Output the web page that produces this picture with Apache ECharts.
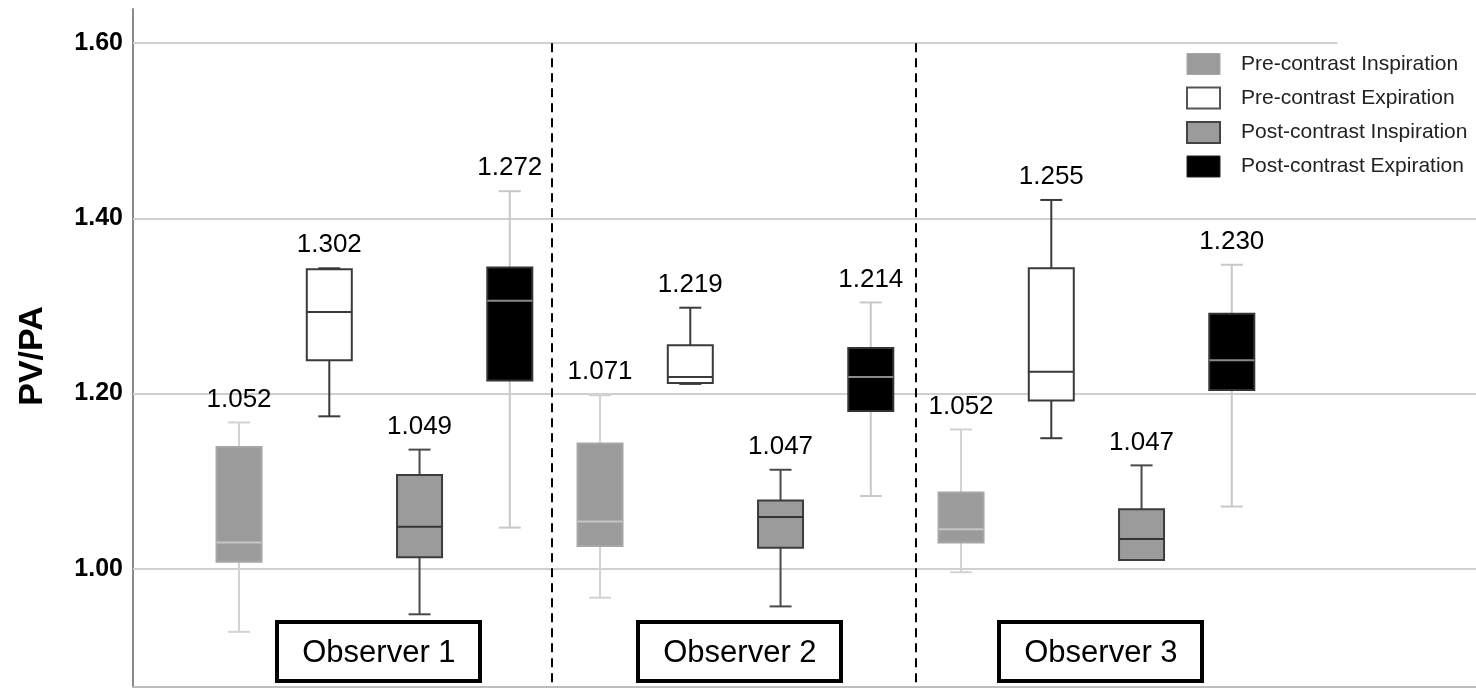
<!DOCTYPE html>
<html>
<head>
<meta charset="utf-8">
<script src="https://cdn.jsdelivr.net/npm/echarts@6/dist/echarts.min.js"></script>
<style>
html,body{margin:0;padding:0;background:#fff;}
#chart{width:1476px;height:689px;}
</style>
</head>
<body>
<div id="chart"></div>
<script>
// ---------------- data ----------------
const observers = ['Observer 1', 'Observer 2', 'Observer 3'];
const conditions = ['Pre-contrast Inspiration', 'Pre-contrast Expiration', 'Post-contrast Inspiration', 'Post-contrast Expiration'];
const yTicks = [1.00, 1.20, 1.40, 1.60];

// box statistics per observer
const preInspMin = [0.928, 0.967, 0.996];
const preInspQ1  = [1.008, 1.026, 1.030];
const preInspMed = [1.030, 1.054, 1.045];
const preInspQ3  = [1.139, 1.143, 1.087];
const preInspMax = [1.167, 1.198, 1.159];
const preInspLabel = [1.052, 1.071, 1.052];

const preExpMin = [1.174, 1.211, 1.149];
const preExpQ1  = [1.238, 1.212, 1.192];
const preExpMed = [1.293, 1.219, 1.225];
const preExpQ3  = [1.342, 1.255, 1.343];
const preExpMax = [1.343, 1.298, 1.421];
const preExpLabel = [1.302, 1.219, 1.255];

const postInspMin = [0.948, 0.957, 1.010];
const postInspQ1  = [1.013, 1.024, 1.010];
const postInspMed = [1.048, 1.059, 1.034];
const postInspQ3  = [1.107, 1.078, 1.068];
const postInspMax = [1.136, 1.113, 1.118];
const postInspLabel = [1.049, 1.047, 1.047];

const postExpMin = [1.047, 1.083, 1.071];
const postExpQ1  = [1.215, 1.180, 1.204];
const postExpMed = [1.306, 1.219, 1.238];
const postExpQ3  = [1.344, 1.252, 1.291];
const postExpMax = [1.431, 1.304, 1.347];
const postExpLabel = [1.272, 1.214, 1.230];

// ---------------- layout / style ----------------
const X_MIN = -1.175, X_MAX = 13.706;
const Y_MIN = 0.865, Y_MAX = 1.639;
const BOX_W = 45, CAP_W = 22;
const SEPARATORS = [3.46, 7.5];
const GRID_1_60_END = 12.17;
const OBS_LABEL_Y = 0.905;
const OBS_LABEL_SHIFT = 1.55;
const OBS_BOX_W = 203, OBS_BOX_H = 59;
const FONT = '"Liberation Sans", Arial, sans-serif';

const stats = [
  [preInspMin, preInspQ1, preInspMed, preInspQ3, preInspMax, preInspLabel],
  [preExpMin, preExpQ1, preExpMed, preExpQ3, preExpMax, preExpLabel],
  [postInspMin, postInspQ1, postInspMed, postInspQ3, postInspMax, postInspLabel],
  [postExpMin, postExpQ1, postExpMed, postExpQ3, postExpMax, postExpLabel]
];
const styles = [
  {fill: '#9b9b9b', border: '#a6a6a6', median: '#c6c6c6', whisker: '#d2d2d2'},
  {fill: '#ffffff', border: '#3a3a3a', median: '#3a3a3a', whisker: '#3a3a3a'},
  {fill: '#9b9b9b', border: '#3c3c3c', median: '#333333', whisker: '#4a4a4a'},
  {fill: '#000000', border: '#333333', median: '#8a8a8a', whisker: '#c8c8c8'}
];
const legendStyles = [
  {color: '#9b9b9b', borderColor: '#a6a6a6', borderWidth: 1},
  {color: '#ffffff', borderColor: '#555555', borderWidth: 2},
  {color: '#9b9b9b', borderColor: '#444444', borderWidth: 2},
  {color: '#000000', borderColor: '#222222', borderWidth: 1}
];

function makeRender(st) {
  return function (params, api) {
    const x = api.value(0);
    const cx = api.coord([x, api.value(1)])[0];
    const yMin = api.coord([x, api.value(1)])[1];
    const yQ1 = api.coord([x, api.value(2)])[1];
    const yMed = api.coord([x, api.value(3)])[1];
    const yQ3 = api.coord([x, api.value(4)])[1];
    const yMax = api.coord([x, api.value(5)])[1];
    const hw = BOX_W / 2, cw = CAP_W / 2;
    const ws = {stroke: st.whisker, lineWidth: 2};
    return {
      type: 'group',
      children: [
        {type: 'line', shape: {x1: cx, y1: yQ3, x2: cx, y2: yMax}, style: ws},
        {type: 'line', shape: {x1: cx - cw, y1: yMax, x2: cx + cw, y2: yMax}, style: ws},
        {type: 'line', shape: {x1: cx, y1: yQ1, x2: cx, y2: yMin}, style: ws},
        {type: 'line', shape: {x1: cx - cw, y1: yMin, x2: cx + cw, y2: yMin}, style: ws},
        {type: 'rect', shape: {x: cx - hw, y: yQ3, width: 2 * hw, height: yQ1 - yQ3},
          style: {fill: st.fill, stroke: st.border, lineWidth: 2}},
        {type: 'line', shape: {x1: cx - hw, y1: yMed, x2: cx + hw, y2: yMed},
          style: {stroke: st.median, lineWidth: 2}},
        {type: 'text', style: {text: api.value(6).toFixed(3), x: cx, y: yMax - 23,
          align: 'center', verticalAlign: 'middle', fontSize: 26,
          fontFamily: FONT, fill: '#000'}}
      ]
    };
  };
}

const boxSeries = conditions.map((name, c) => {
  const s = stats[c];
  return {
    name: name,
    type: 'custom',
    z: 3,
    itemStyle: legendStyles[c],
    renderItem: makeRender(styles[c]),
    encode: {x: 0, y: [1, 2, 3, 4, 5]},
    data: observers.map((o, g) => [g * 4 + c, s[0][g], s[1][g], s[2][g], s[3][g], s[4][g], s[5][g]])
  };
});

const gridLines = yTicks.map(v => [
  {coord: [X_MIN, v]},
  {coord: [v === 1.60 ? GRID_1_60_END : X_MAX, v]}
]);
const sepLines = SEPARATORS.map(x => [{coord: [x, 1.60]}, {coord: [x, Y_MIN]}]);

const option = {
  backgroundColor: '#ffffff',
  animation: false,
  grid: {left: 133, right: 0, top: 9, bottom: 2},
  legend: {
    data: conditions.map((n, i) => ({name: n, icon: 'rect', itemStyle: legendStyles[i]})),
    orient: 'vertical', left: 1186, top: 53, padding: 0,
    itemWidth: 33, itemHeight: 21, itemGap: 11.5, selectedMode: false,
    textStyle: {fontSize: 21, fontFamily: FONT, color: '#222',
      lineHeight: 21, padding: [0, 0, 0, 16]}
  },
  xAxis: {
    type: 'value', min: X_MIN, max: X_MAX,
    axisLine: {show: true, onZero: false, lineStyle: {color: '#bdbdbd', width: 2}},
    axisTick: {show: false}, axisLabel: {show: false}, splitLine: {show: false}
  },
  yAxis: {
    type: 'value', min: Y_MIN, max: Y_MAX,
    name: 'PV/PA', nameLocation: 'middle', nameGap: 83,
    nameTextStyle: {fontSize: 34, fontWeight: 'bold', fontFamily: FONT,
      color: '#000', padding: [0, 16, 0, 0]},
    axisLine: {show: true, onZero: false, lineStyle: {color: '#8a8a8a', width: 2}},
    axisTick: {show: false, customValues: yTicks},
    axisLabel: {customValues: yTicks, formatter: v => v.toFixed(2), margin: 10,
      fontSize: 25, fontWeight: 'bold', fontFamily: FONT, color: '#000'},
    splitLine: {show: false}
  },
  series: [
    {
      name: 'grid', type: 'line', data: [], silent: true, z: 1,
      markLine: {silent: true, symbol: 'none', z: 1, label: {show: false},
        lineStyle: {color: '#d0d0d0', width: 2, type: 'solid'}, data: gridLines}
    },
    ...boxSeries,
    {
      name: 'separators', type: 'line', data: [], silent: true, z: 6,
      markLine: {silent: true, symbol: 'none', z: 6, label: {show: false},
        lineStyle: {color: '#000', width: 2, type: [9, 6]}, data: sepLines}
    },
    {
      name: 'observers', type: 'custom', z: 7, silent: true,
      encode: {x: 0, y: 1},
      data: observers.map((o, g) => [g * 4 + OBS_LABEL_SHIFT, OBS_LABEL_Y]),
      renderItem: function (params, api) {
        const p = api.coord([api.value(0), api.value(1)]);
        return {
          type: 'group',
          children: [
            {type: 'rect', shape: {x: Math.round(p[0] - OBS_BOX_W / 2), y: Math.round(p[1] - OBS_BOX_H / 2),
              width: OBS_BOX_W, height: OBS_BOX_H},
              style: {fill: '#fff', stroke: '#000', lineWidth: 4}},
            {type: 'text', style: {text: observers[params.dataIndex], x: p[0], y: p[1] + 1,
              align: 'center', verticalAlign: 'middle', fontSize: 31, fontFamily: FONT, fill: '#000'}}
          ]
        };
      }
    }
  ]
};

const chart = echarts.init(document.getElementById('chart'), null, {renderer: 'canvas'});
chart.setOption(option);
</script>
</body>
</html>
